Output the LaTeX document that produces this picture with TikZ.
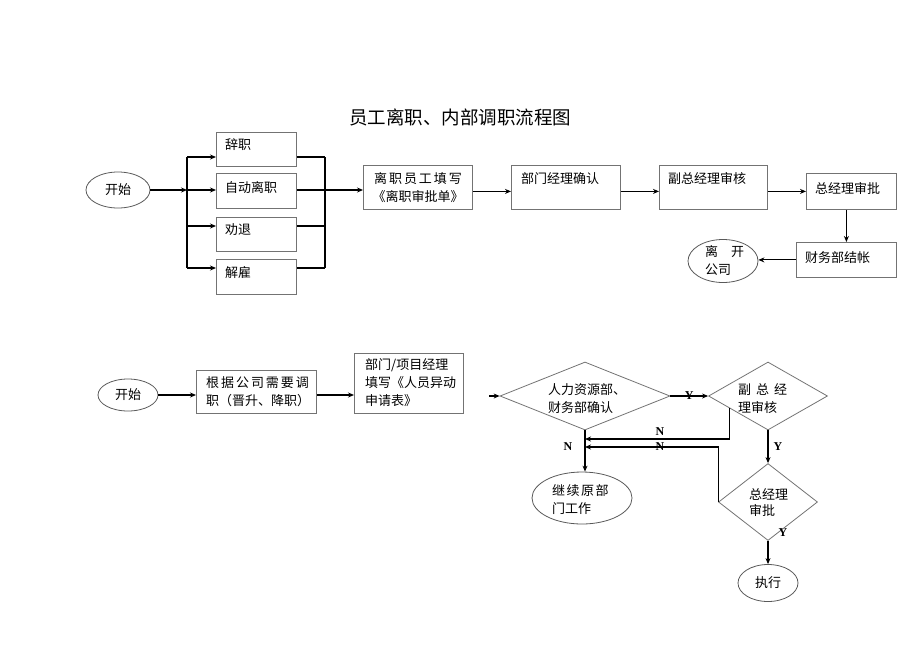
\documentclass[tikz,border=0pt]{standalone}
\usepackage{fontspec}
\setmainfont{Noto Sans CJK SC}
\newfontfamily\spc[LetterSpace=15]{Noto Sans CJK SC}
\newfontfamily\lat{Liberation Serif}
\usetikzlibrary{shapes.geometric,arrows.meta,calc}
\begin{document}
\begin{tikzpicture}[x=1pt,y=-1pt,
  box/.style={draw=black!55,line width=0.8pt,rectangle,inner sep=0pt,anchor=north west},
  oval/.style={draw=black!65,line width=0.8pt,ellipse,inner sep=0pt},
  dia/.style={draw=black!55,line width=0.8pt,diamond,inner sep=0pt},
  txt/.style={inner sep=0pt,anchor=west,align=left,font=\fontsize{13pt}{18pt}\selectfont},
  ctxt/.style={inner sep=0pt,align=center,font=\fontsize{13pt}{18pt}\selectfont},
  yn/.style={inner sep=0pt,font=\lat\bfseries\fontsize{12pt}{12pt}\selectfont},
  con/.style={line width=1.1pt,black},
  arr/.style={con,-{Stealth[length=6pt,width=5pt]}}]
\useasboundingbox (0,0) rectangle (920,651);
\node[inner sep=0pt,font=\fontsize{18.5pt}{20pt}\selectfont] (title) at (460,117) {员工离职、内部调职流程图};

% ---------- top flow ----------
\node[oval,minimum width=64pt,minimum height=36pt] (s1) at (118,190) {};
\node[ctxt] (s1t) at (s1) {开始};
\node[box,minimum width=80pt,minimum height=34pt] (b1) at (216,132) {};
\node[box,minimum width=80pt,minimum height=35pt] (b2) at (216,173) {};
\node[box,minimum width=80pt,minimum height=34pt] (b3) at (216,217) {};
\node[box,minimum width=80pt,minimum height=35pt] (b4) at (216,259) {};
\node[txt] (b1t) at (225,145) {辞职};
\node[txt] (b2t) at (225,188) {自动离职};
\node[txt] (b3t) at (225,230) {劝退};
\node[txt] (b4t) at (225,273) {解雇};

\node[box,minimum width=109pt,minimum height=44pt] (f1) at (363,165) {};
\node[ctxt] (f1t) at (418,188) {{\spc 离职员工填写}\\《离职审批单》};
\node[box,minimum width=109pt,minimum height=44pt] (f2) at (511,165) {};
\node[txt] (f2t) at (521,179) {部门经理确认};
\node[box,minimum width=108pt,minimum height=44pt] (f3) at (659,165) {};
\node[txt] (f3t) at (668,179) {副总经理审核};
\node[box,minimum width=90pt,minimum height=36pt] (f4) at (806,173) {};
\node[txt] (f4t) at (815,188) {总经理审批};
\node[box,minimum width=100pt,minimum height=35pt] (f5) at (796,242) {};
\node[txt] (f5t) at (805,258) {财务部结帐};
\node[oval,minimum width=70pt,minimum height=43pt] (lv) at (723,261) {};
\node[txt] (lvt) at (705,260) {离\hspace{13pt}开\\公司};

\coordinate (sp) at (187,190);
\coordinate (spa) at (187,157);
\coordinate (spc) at (187,226);
\coordinate (spd) at (187,268);
\coordinate (mga) at (325,157);
\coordinate (mgb) at (325,190);
\coordinate (mgc) at (325,226);
\coordinate (mgd) at (325,268);
\draw[arr] (s1.east) -- (sp);
\draw[con] (spa) -- (spd);
\draw[arr] (spa) -- (spa -| b1.west);
\draw[arr] (sp) -- (sp -| b2.west);
\draw[arr] (spc) -- (spc -| b3.west);
\draw[arr] (spd) -- (spd -| b4.west);
\draw[con] (mga -| b1.east) -- (mga);
\draw[con] (mgb -| b2.east) -- (mgb);
\draw[con] (mgc -| b3.east) -- (mgc);
\draw[con] (mgd -| b4.east) -- (mgd);
\draw[con] (mga) -- (mgd);
\draw[arr] (mgb) -- (mgb -| f1.west);
\draw[arr] (f1.east |- f4) -- (f2.west |- f4);
\draw[arr] (f2.east |- f4) -- (f3.west |- f4);
\draw[arr] (f3.east |- f4) -- (f4.west);
\draw[arr] (f4.south -| f5.north) -- (f5.north);
\draw[arr] (f5.west) -- (f5.west -| lv.east);

% ---------- bottom flow ----------
\node[oval,minimum width=60pt,minimum height=32pt] (s2) at (128,395) {};
\node[ctxt] (s2t) at (s2) {开始};
\node[box,minimum width=120pt,minimum height=43pt] (g1) at (196,370) {};
\node[txt] (g1t) at (206,392) {{\spc 根据公司需要调}\\职（晋升、降职）};
\node[box,minimum width=109pt,minimum height=60pt] (g2) at (354,353) {};
\node[txt] (g2t) at (365,383) {部门/项目经理\\填写《人员异动\\申请表》};

\node[dia,minimum width=170pt,minimum height=68pt] (d1) at (585,396) {};
\node[txt] (d1t) at (548,399) {人力资源部、\\财务部确认};
\node[dia,minimum width=119pt,minimum height=68pt] (d2) at (768,396) {};
\node[txt] (d2t) at (738,399) {副\hspace{5pt}总\hspace{5pt}经\\理审核};
\node[dia,minimum width=99pt,minimum height=77pt] (d3) at (768,502) {};
\node[txt,font=\fontsize{13pt}{16pt}\selectfont] (d3t) at (749,503) {总经理\\审批};
\node[oval,minimum width=100pt,minimum height=52pt] (kp) at (582,498) {};
\node[txt] (kpt) at (552,500) {继\hspace{1.5pt}续\hspace{1.5pt}原\hspace{1.5pt}部\\门工作};
\node[oval,minimum width=60pt,minimum height=37pt] (ex) at (768,583) {};
\node[ctxt] (ext) at (ex) {执行};

\coordinate (stub) at (489,396);
\draw[arr] (s2.east) -- (s2.east -| g1.west);
\draw[arr] (g1.east |- s2) -- (g2.west |- s2);
\draw[arr] (stub) -- (d1.west);
\draw[arr] (d1.east) -- (d2.west) node[yn,midway] (y1) {Y};
\draw[arr] (d2.south) -- (d3.north);
\node[yn] (y2) at (778,447) {Y};
\draw[arr] (d3.south) -- (ex.north);
\node[yn] (y3) at (783,533) {Y};
\draw[arr] (d1.south) -- (d1.south |- kp.north);
\node[yn] (n0) at (568,447) {N};
\coordinate (n1s) at ($(d2.west)!0.35!(d2.south)$);
\coordinate (n1c) at (n1s |- 0,439);
\draw[arr] (n1s) -- (n1c) -- (n1c -| d1.south);
\node[yn] (n1) at (660,432) {N};
\coordinate (n2c) at (d3.west |- 0,447);
\draw[arr] (d3.west) -- (n2c) -- (n2c -| d1.south);
\node[yn] (n2) at (660,447) {N};
\end{tikzpicture}
\end{document}
